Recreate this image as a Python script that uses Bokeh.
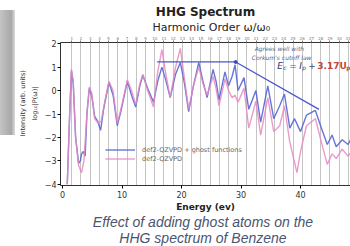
from bokeh.plotting import figure
from bokeh.models import Label, LinearAxis, FixedTicker, Range1d, Div, CustomJSTickFormatter, Title
from bokeh.layouts import row, column
from bokeh.embed import file_html
from bokeh.resources import INLINE

# ---------------- data ----------------
energy_blue = [0.8, 1.2, 1.5, 1.8, 2.2, 2.7, 3.0, 3.2, 3.5, 3.8, 4.1, 4.5, 4.9, 5.4, 5.9, 6.4,
               6.9, 7.8, 8.5, 9.2, 9.8, 10.9, 11.6, 12.3, 13.0, 13.5, 14.3, 15.3, 16.0, 16.7,
               17.3, 18.1, 19.0, 19.8, 20.5, 21.2, 22.0, 22.9, 23.6, 24.3, 25.3, 25.8, 26.3,
               27.3, 27.9, 28.5, 29.0, 29.5, 30.5, 31.3, 32.5, 33.3, 34.5, 35.5, 36.5, 37.3,
               38.2, 39.0, 40.0, 41.0, 42.5, 43.5, 44.5, 45.3, 46.0, 47.0, 48.0, 48.6]
logI_blue = [-4.0, -1.0, 0.85, 0.3, -2.0, -3.1, -3.0, -2.7, -2.6, -2.8, -1.0, 0.1, -0.2, -1.1, -1.3, -1.7,
             -0.8, 0.35, -0.2, -1.5, -0.9, 0.4, -0.2, -0.7, 0.2, 0.65, 0.1, -0.5, 0.4, 1.0,
             0.5, -0.3, 0.7, 1.2, 0.3, -0.9, 0.2, 1.2, 0.4, -0.3, 0.9, 0.4, -0.4,
             0.8, 0.2, 0.6, 1.1, 0.0, 0.55, -0.8, 0.0, -1.35, 0.2, -1.2, -0.65, -0.15,
             -1.6, -1.2, -1.75, -1.05, -0.85, -1.6, -2.3, -1.9, -2.4, -2.1, -2.3, -2.0]

energy_pink = [0.8, 1.2, 1.5, 1.8, 2.2, 2.7, 3.2, 3.6, 4.1, 4.5, 4.9, 5.4, 6.0, 6.5, 7.0, 7.8,
               8.5, 9.2, 9.8, 10.9, 11.6, 12.3, 13.0, 13.5, 14.3, 15.3, 16.0, 16.7, 17.3, 18.1,
               19.0, 19.8, 20.5, 21.2, 22.0, 22.9, 23.6, 24.3, 25.3, 25.8, 26.3, 27.3, 27.9,
               28.5, 29.0, 29.5, 30.5, 31.3, 32.5, 33.3, 34.5, 35.5, 36.5, 37.3, 38.2, 39.4,
               40.0, 41.0, 42.5, 43.5, 44.5, 45.3, 46.0, 47.0, 48.0, 48.6]
logI_pink = [-4.0, -1.0, 0.9, 0.4, -2.0, -3.2, -3.5, -3.0, -1.0, 0.15, -0.1, -1.2, -1.4, -1.3, -0.6, 0.4,
             0.0, -1.4, -0.8, 0.45, 0.0, -0.6, 0.3, 0.7, 0.0, -0.7, 0.8, 1.75, 0.8, -0.3,
             1.0, 1.8, 0.5, -0.8, 0.2, 1.0, 0.3, -0.2, 0.6, 0.1, -0.65, 0.5, 0.0,
             -0.3, -0.2, -0.5, 0.1, -1.6, -0.45, -1.9, -0.3, -1.75, -1.5, -0.65, -2.2, -3.5,
             -2.6, -1.5, -1.2, -2.2, -3.15, -2.7, -2.9, -2.5, -2.8, -2.6]

cutoff_energy = [15.9, 29.1, 43.1]
cutoff_logI = [1.22, 1.22, -0.8]

harmonic_orders = list(range(1, 32))
photon_energy_ev = 1.55
harmonic_energy = [round(n * photon_energy_ev, 2) for n in harmonic_orders]

x_ticks = [0, 10, 20, 30, 40, 50]
y_ticks = [-4, -3, -2, -1, 0, 1, 2]
y_tick_labels = ["\u22124", "\u22123", "\u22122", "\u22121", "0", "1", "2"]

series_labels = ["def2-QZVPD + ghost functions", "def2-QZVPD"]
caption_lines = ["Effect of adding ghost atoms on the", "HHG spectrum of Benzene"]

# ---------------- figure ----------------
BLUE = "#5866d2"
PINK = "#e58ac0"
FONT = "DejaVu Sans"
CAP = "#4a5470"

p = figure(width=335, height=214, title=None,
           x_range=Range1d(-0.34, 48.4), y_range=Range1d(-4.05, 2.05),
           output_backend="svg", toolbar_location=None,
           min_border_left=45, min_border_right=0, min_border_top=42, min_border_bottom=26,
           background_fill_color="white", border_fill_color="white", outline_line_color=None)
p.margin = 0

# vertical harmonic lines
p.xgrid.ticker = FixedTicker(ticks=harmonic_energy)
p.xgrid.grid_line_color = "#c4c4c4"
p.xgrid.grid_line_width = 1
p.ygrid.visible = False

# bottom axis
p.xaxis.ticker = FixedTicker(ticks=x_ticks)
p.xaxis.major_label_text_font = FONT
p.xaxis.major_label_text_font_size = "8px"
p.xaxis.major_label_text_color = "#333333"
p.xaxis.major_tick_out = 3
p.xaxis.major_tick_in = 0
p.xaxis.minor_tick_line_color = None
p.xaxis.major_label_standoff = 2
p.xaxis.axis_line_color = "#333333"
p.xaxis.axis_label = "Energy (ev)"
p.xaxis.axis_label_text_font = FONT
p.xaxis.axis_label_text_font_size = "9px"
p.xaxis.axis_label_text_font_style = "bold"
p.xaxis.axis_label_text_color = "#222222"
p.xaxis.axis_label_standoff = 1

# left axis
p.yaxis.ticker = FixedTicker(ticks=y_ticks)
p.yaxis.major_label_overrides = {t: s for t, s in zip(y_ticks, y_tick_labels)}
p.yaxis.major_label_text_font = FONT
p.yaxis.major_label_text_font_size = "8px"
p.yaxis.major_label_text_color = "#333333"
p.yaxis.major_tick_out = 3
p.yaxis.major_tick_in = 0
p.yaxis.minor_tick_line_color = None
p.yaxis.major_label_standoff = 1
p.yaxis.axis_line_color = "#333333"

# top axis: harmonic order
top = LinearAxis(ticker=FixedTicker(ticks=harmonic_energy),
                 formatter=CustomJSTickFormatter(args=dict(w=photon_energy_ev),
                                                 code="return String(Math.round(tick / w));"),
                 major_label_text_font=FONT, major_label_text_font_size="4px",
                 major_label_text_color="#777777", major_tick_out=2, major_tick_in=0,
                 major_tick_line_color="#777777",
                 minor_tick_line_color=None, major_label_standoff=1, axis_line_color="#333333")
p.add_layout(top, "above")

# titles (stacked outward from the frame)
p.add_layout(Title(text="Harmonic Order \u03c9/\u03c9\u2080", align="left", offset=92,
                   text_font=FONT, text_font_size="11px", text_font_style="normal",
                   text_color="#222222", standoff=0), "above")
p.add_layout(Title(text="HHG Spectrum", align="center", text_font=FONT,
                   text_font_size="12px", text_font_style="bold", text_color="#222222",
                   standoff=0), "above")

p.add_layout(Title(text="log\u2081\u2080|P(\u03c9)|", align="left", offset=65, text_font=FONT,
                   text_font_size="6.5px", text_font_style="normal", text_color="#333333",
                   standoff=5), "left")
p.add_layout(Title(text="Intensity (arb. units)", align="left", offset=49, text_font=FONT,
                   text_font_size="6.5px", text_font_style="normal", text_color="#333333",
                   standoff=0), "left")

# curves
p.line(energy_blue, logI_blue, line_color=BLUE, line_width=1.4, line_alpha=0.9,
       legend_label=series_labels[0])
p.line(energy_pink, logI_pink, line_color=PINK, line_width=1.4, line_alpha=0.85,
       legend_label=series_labels[1])
p.line(cutoff_energy, cutoff_logI, line_color="#4a57cc", line_width=1.3)
p.scatter(cutoff_energy[1:2], cutoff_logI[1:2], size=3, color="#3a47b8")

lg = p.legend[0]
lg.location = (45, 22)
lg.background_fill_alpha = 0
lg.border_line_alpha = 0
lg.padding = 0
lg.margin = 0
lg.spacing = 0
lg.label_height = 9
lg.glyph_height = 9
lg.glyph_width = 30
lg.label_standoff = 7
lg.label_text_font = FONT
lg.label_text_font_size = "6.5px"
lg.label_text_color = "#666666"


def add_text(x, y, text, size, color="#222222", style="normal", align="left",
             baseline="middle", font=FONT, xo=0, yo=0):
    p.add_layout(Label(x=x, y=y, text=text, text_font_size=size, text_color=color,
                       text_font_style=style, text_align=align, text_baseline=baseline,
                       text_font=font, x_offset=xo, y_offset=yo))


# annotation inside the plot
ANN = "#5a6684"
add_text(32.3, 1.80, "Agrees well with", "6px", color=ANN, style="italic")
add_text(31.8, 1.42, "Corkum's cutoff law", "6px", color=ANN, style="italic")
NAVY = "#2b3576"
RED = "#c2473a"
fx, fy = 36.1, 1.05
add_text(fx, fy, "E", "9px", color=NAVY, style="italic")
add_text(fx, fy, "c", "6px", color=NAVY, style="italic", xo=6, yo=-2)
add_text(fx, fy, "=", "9px", color="#555555", xo=12)
add_text(fx, fy, "I", "9px", color=NAVY, style="italic", xo=22)
add_text(fx, fy, "p", "6px", color=NAVY, style="italic", xo=25, yo=-2)
add_text(fx, fy, "+", "9px", color="#555555", xo=31)
add_text(fx, fy, "3.17U", "9px", color=RED, style="bold", xo=40)
add_text(fx, fy, "p", "6px", color=RED, style="bold", xo=69, yo=-2)

bar = Div(width=15, height=214, margin=0,
          text='<div style="margin-top:10px;width:15px;height:125px;'
               'background:linear-gradient(to right,#c4c4c4 0%,#a8a8a8 75%,#dcdcdc 100%);"></div>')

line_style = ('padding-left:56px;box-sizing:border-box;width:350px;height:16px;'
              'text-align:center;font-family:\'Liberation Sans\';font-style:italic;font-size:14px;'
              'line-height:16px;white-space:nowrap;color:' + CAP + ';')
caption = Div(width=350, height=32, margin=0,
              text='<div style="' + line_style + '">' + caption_lines[0] + '</div>'
                   '<div style="' + line_style + '">' + caption_lines[1] + '</div>')

layout = column(row(bar, p, spacing=0), caption, spacing=0)

open("out.html", "w").write(file_html(layout, INLINE))
